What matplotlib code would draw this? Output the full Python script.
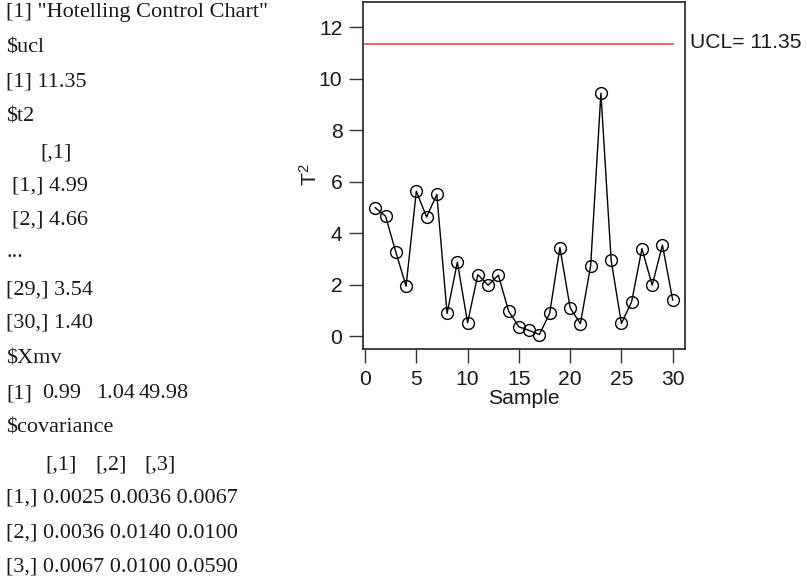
import matplotlib
matplotlib.use("Agg")
import matplotlib.pyplot as plt

# Hotelling T^2 statistic for each of the 30 samples
samples = list(range(1, 31))
t2 = [4.99, 4.66, 3.27, 1.94, 5.63, 4.63, 5.51, 0.88, 2.87, 0.52,
      2.39, 1.98, 2.37, 0.97, 0.36, 0.22, 0.06, 0.88, 3.44, 1.10,
      0.48, 2.74, 9.44, 2.94, 0.49, 1.34, 3.40, 1.98, 3.54, 1.40]
ucl = 11.35
y_ticks = [0, 2, 4, 6, 8, 10, 12]
x_ticks = [0, 5, 10, 15, 20, 25, 30]

# Console printout shown beside the chart: (x px, y px, text)
console_lines = [
    (6, 13, '[1] "Hotelling Control Chart"'),
    (6, 48, '$ucl'),
    (6, 82, '[1] 11.35'),
    (6, 117, '$t2'),
    (40, 153, '[,1]'),
    (12, 186, '[1,] 4.99'),
    (12, 220, '[2,] 4.66'),
    (6, 252, '...'),
    (6, 290, '[29,] 3.54'),
    (6, 323, '[30,] 1.40'),
    (6, 359, '$Xmv'),
    (6, 394, '[1]'), (42, 394, '0.99'), (96, 394, '1.04'), (139, 394, '49.98'),
    (6, 428, '$covariance'),
    (45, 465, '[,1]'), (95, 465, '[,2]'), (144, 465, '[,3]'),
    (6, 498, '[1,] 0.0025 0.0036 0.0067'),
    (6, 533, '[2,] 0.0036 0.0140 0.0100'),
    (6, 567, '[3,] 0.0067 0.0100 0.0590'),
]

W, H = 807, 581
plt.rcParams['mathtext.fontset'] = 'custom'
plt.rcParams['mathtext.rm'] = 'Liberation Sans'
plt.rcParams['mathtext.it'] = 'Liberation Sans'

fig = plt.figure(figsize=(W / 100, H / 100), dpi=100)
fig.patch.set_facecolor('white')

for x, y, s in console_lines:
    fig.text(x / W, 1 - y / H, s, family='Liberation Serif', fontsize=16,
             ha='left', va='center', color='#1a1a1a')

ax = fig.add_axes([363.3 / W, 1 - 348.7 / H, (685 - 363.3) / W, (348.7 - 1.7) / H])
ax.plot(samples, t2, color='black', lw=1.0, marker='o', markersize=8.5,
        markerfacecolor='none', markeredgecolor='black', markeredgewidth=1.0)
ax.plot([0, 30], [ucl, ucl], color='#e8473b', lw=1.2)

ax.set_xlim(-0.17, 31.2)
ax.set_ylim(-0.49, 13.0)
ax.set_xticks(x_ticks)
ax.set_yticks(y_ticks)
ax.set_yticklabels([str(v) for v in y_ticks])
ax.tick_params(direction='out', length=10, width=1.0, color='#333333',
               labelsize=15.2, pad=5)
for lab in ax.get_xticklabels() + ax.get_yticklabels():
    lab.set_family('Liberation Sans')
    lab.set_color('#1a1a1a')
for sp in ax.spines.values():
    sp.set_linewidth(1.2)
    sp.set_color('#222222')

ax.set_xlabel('Sample', family='Liberation Sans', fontsize=15.2, labelpad=0,
              color='#1a1a1a')
ax.text(-0.166, 0.5, r'T$^2$', transform=ax.transAxes, rotation=90,
        ha='center', va='center', family='Liberation Sans', fontsize=15.2,
        color='#1a1a1a')
ax.text(690.5 / W, 1 - 43 / H, 'UCL= 11.35', transform=fig.transFigure,
        ha='left', va='center', family='Liberation Sans', fontsize=15.2,
        color='#1a1a1a')

fig.savefig('out.png', dpi=100, facecolor='white')
